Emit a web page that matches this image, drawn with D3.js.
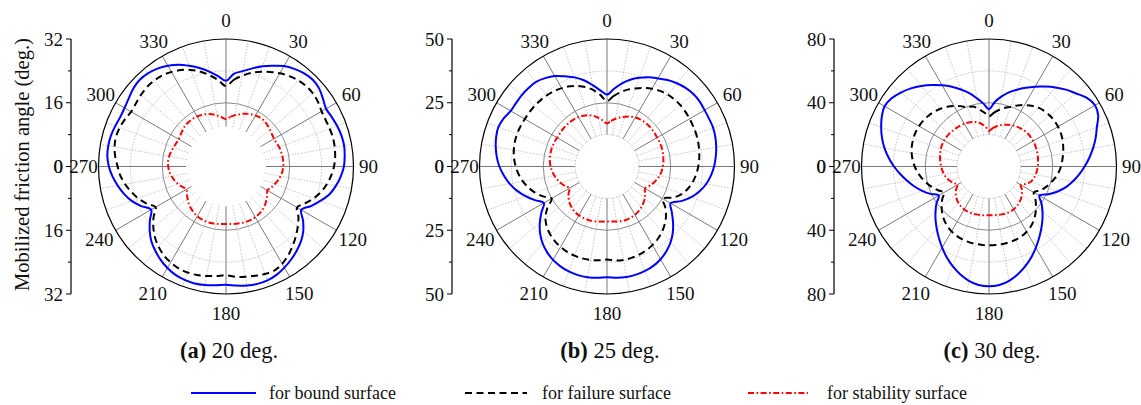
<!DOCTYPE html>
<html>
<head>
<meta charset="utf-8">
<script src="https://cdn.jsdelivr.net/npm/d3@7"></script>
<style>
  html, body { margin: 0; padding: 0; background: #fff; }
  svg { display: block; }
  text { font-family: "Liberation Serif", "Times New Roman", serif; fill: #111; }
</style>
</head>
<body>
<svg id="chart" width="1141" height="405"></svg>
<script>
// Polar direction, degrees clockwise from north, every 5 degrees
const angles = d3.range(0, 360, 5);

// Mobilized friction angle (deg.) at each direction
// (a) 20 deg.
const boundA = [
  21.5, 23.4, 24.3, 25.5, 26.8, 27.9, 29.1, 29.9, 30.5, 30.8, 30.5, 29.7,
  29.0, 29.3, 29.7, 30.0, 30.1, 29.9, 29.6, 28.9, 28.0, 26.9, 25.2, 23.5,
  21.8, 23.6, 25.3, 26.6, 27.6, 28.5, 29.3, 30.0, 30.4, 30.5, 30.3, 30.0,
  29.7, 29.9, 30.2, 30.4, 30.3, 30.0, 29.4, 28.6, 27.6, 26.5, 25.0, 23.3,
  21.7, 23.5, 25.2, 26.5, 27.6, 28.6, 29.4, 29.9, 30.0, 29.9, 29.6, 29.3,
  29.4, 29.8, 30.4, 30.7, 30.5, 30.0, 29.2, 28.2, 26.9, 25.6, 24.2, 22.8
];
const failureA = [
  20.2, 21.8, 23.1, 24.3, 25.3, 26.2, 27.0, 27.7, 28.2, 28.5, 28.5, 28.2,
  27.7, 27.6, 27.7, 27.8, 27.7, 27.5, 27.1, 26.5, 25.7, 24.7, 23.4, 21.9,
  20.6, 22.2, 23.5, 24.8, 26.0, 27.2, 28.2, 28.8, 28.7, 28.4, 28.1, 27.8,
  27.3, 27.6, 27.9, 28.2, 28.3, 28.2, 27.8, 27.2, 26.3, 25.2, 23.8, 22.2,
  20.4, 22.0, 23.4, 24.6, 25.7, 26.6, 27.2, 27.9, 28.4, 28.6, 28.4, 28.0,
  27.5, 27.6, 27.9, 28.1, 28.1, 27.9, 27.4, 26.7, 25.8, 24.6, 23.2, 21.7
];
const stabilityA = [
  11.9, 12.5, 13.1, 13.6, 14.1, 14.5, 14.8, 15.0, 14.9, 14.7, 14.4, 14.1,
  13.9, 14.0, 14.2, 14.3, 14.4, 14.4, 14.4, 14.2, 13.9, 13.5, 13.0, 12.5,
  12.0, 12.6, 13.2, 13.8, 14.2, 14.5, 14.7, 14.8, 14.8, 14.7, 14.6, 14.5,
  14.4, 14.5, 14.6, 14.7, 14.7, 14.6, 14.4, 14.1, 13.7, 13.2, 12.6, 12.0,
  11.5, 12.1, 12.8, 13.4, 13.9, 14.3, 14.5, 14.6, 14.5, 14.3, 14.0, 13.8,
  13.7, 13.9, 14.2, 14.5, 14.6, 14.6, 14.5, 14.3, 14.0, 13.6, 13.0, 12.4
];

// (b) 25 deg.
const boundB = [
  28.2, 30.5, 33.0, 35.2, 37.0, 38.6, 39.9, 41.4, 42.6, 43.6, 44.2, 44.4,
  44.2, 44.2, 44.3, 44.0, 43.5, 42.8, 42.0, 40.9, 39.5, 37.6, 35.2, 32.1,
  28.8, 31.0, 33.8, 36.5, 38.8, 40.6, 42.0, 43.0, 43.6, 43.9, 44.0, 43.8,
  43.4, 43.8, 44.1, 44.1, 43.8, 43.2, 42.3, 41.0, 39.3, 37.1, 34.4, 31.4,
  28.6, 31.2, 34.0, 36.6, 38.8, 40.6, 42.2, 43.4, 44.3, 45.0, 45.3, 44.7,
  43.6, 43.5, 43.6, 43.5, 43.3, 42.3, 41.0, 39.0, 37.2, 35.0, 32.4, 30.0
];
const failureB = [
  25.6, 27.6, 29.5, 31.2, 32.6, 34.0, 35.2, 36.2, 36.9, 37.3, 37.5, 37.5,
  37.4, 37.3, 37.2, 37.0, 36.7, 36.3, 35.8, 35.1, 34.2, 33.0, 31.3, 28.8,
  25.3, 27.9, 30.2, 32.0, 33.5, 34.7, 35.6, 36.3, 36.8, 37.1, 37.2, 37.0,
  36.5, 36.9, 37.2, 37.3, 37.2, 36.9, 36.4, 35.7, 34.7, 33.4, 31.5, 28.6,
  25.1, 27.7, 30.0, 31.9, 33.5, 34.8, 35.8, 36.6, 37.1, 37.4, 37.5, 37.4,
  37.2, 37.1, 37.0, 36.8, 36.5, 36.1, 35.5, 34.7, 33.6, 32.2, 30.4, 28.0
];
const stabilityB = [
  16.9, 17.9, 19.0, 19.9, 20.8, 21.6, 22.2, 22.6, 22.8, 22.9, 22.9, 22.8,
  22.7, 22.7, 22.7, 22.6, 22.4, 22.2, 21.9, 21.5, 20.9, 20.1, 19.2, 18.2,
  17.2, 18.3, 19.3, 20.2, 20.9, 21.5, 21.9, 22.1, 22.2, 22.1, 21.9, 21.7,
  21.6, 21.7, 21.9, 22.1, 22.2, 22.2, 22.1, 21.8, 21.3, 20.6, 19.6, 18.4,
  17.0, 18.1, 19.2, 20.1, 20.9, 21.6, 22.1, 22.5, 22.7, 22.8, 22.8, 22.7,
  22.6, 22.6, 22.7, 22.7, 22.7, 22.6, 22.4, 22.0, 21.4, 20.6, 19.4, 18.1
];

// (c) 30 deg.
const boundC = [
  36.0, 40.5, 44.5, 48.2, 51.3, 54.5, 57.8, 61.2, 64.8, 68.2, 71.3, 75.0,
  76.8, 75.6, 72.0, 69.3, 66.3, 63.2, 60.0, 56.8, 53.5, 50.0, 45.8, 41.2,
  36.5, 40.2, 43.8, 47.4, 51.0, 54.8, 58.8, 62.8, 66.6, 70.0, 72.8, 74.6,
  75.2, 74.6, 72.8, 70.0, 66.6, 62.8, 58.8, 54.8, 51.0, 47.4, 43.8, 40.2,
  36.4, 40.6, 44.6, 48.4, 52.0, 55.8, 59.6, 63.2, 66.6, 69.5, 72.0, 74.2,
  75.6, 74.6, 72.2, 69.3, 66.0, 62.4, 58.8, 55.2, 51.4, 47.6, 43.4, 39.6
];
const failureC = [
  31.5, 33.8, 36.0, 38.0, 39.8, 42.3, 44.5, 46.6, 48.2, 49.2, 49.8, 50.0,
  50.0, 49.7, 49.1, 48.2, 47.2, 46.2, 45.2, 43.8, 42.0, 40.0, 37.9, 35.5,
  32.5, 35.5, 38.5, 41.3, 43.8, 45.8, 47.3, 48.3, 48.9, 49.2, 49.4, 49.4,
  49.4, 49.4, 49.3, 49.1, 48.7, 48.0, 47.0, 45.6, 43.8, 41.5, 38.8, 35.8,
  32.7, 35.3, 37.9, 40.4, 42.7, 44.8, 46.6, 48.1, 49.3, 50.1, 50.6, 50.8,
  50.7, 50.3, 49.6, 48.6, 47.3, 45.7, 43.8, 41.8, 39.6, 39.0, 36.6, 34.0
];
const stabilityC = [
  22.3, 24.0, 25.5, 26.8, 27.9, 28.9, 29.8, 30.5, 31.1, 31.6, 31.9, 32.0,
  32.0, 31.9, 31.7, 31.5, 31.2, 30.9, 30.6, 30.2, 29.7, 29.0, 27.9, 25.8,
  23.0, 25.2, 27.0, 28.4, 29.5, 30.4, 31.0, 31.3, 31.3, 31.1, 30.9, 30.7,
  30.6, 30.7, 30.9, 31.1, 31.3, 31.3, 31.1, 30.6, 29.8, 28.7, 27.2, 25.2,
  22.8, 24.6, 26.2, 27.6, 28.6, 29.4, 30.0, 30.6, 31.2, 31.7, 32.2, 32.5,
  32.6, 32.5, 32.3, 32.0, 31.7, 31.4, 31.0, 30.5, 29.8, 28.7, 27.2, 25.0
];

// Axis annotations
const angleTicks = [0, 30, 60, 90, 120, 150, 180, 210, 240, 270, 300, 330];
const radialMaxes = [32, 50, 80];
const radialStarts = [10, 12.5, 20];       // where the spokes begin
const panelLetters = ["(a)", "(b)", "(c)"];
const panelCaptions = [" 20 deg.", " 25 deg.", " 30 deg."];
const seriesNames = ["for bound surface", "for failure surface", "for stability surface"];
const yTitle = "Mobilized friction angle (deg.)";

const panels = [
  { bound: boundA, failure: failureA, stability: stabilityA },
  { bound: boundB, failure: failureB, stability: stabilityB },
  { bound: boundC, failure: failureC, stability: stabilityC }
];

// Presentation
const centersX = [226, 607, 989];
const centerY = 166.5;
const R = 127.5;
const axisOffset = 155;
const tickFont = 19;
const seriesStyle = {
  bound:     { color: "#0000ff", dash: null },
  failure:   { color: "#000000", dash: "7,4.5" },
  stability: { color: "#ff0000", dash: "6,2.5,1.6,2.5" }
};
const seriesKeys = ["bound", "failure", "stability"];

const svg = d3.select("#chart");
const rad = d => d * Math.PI / 180;

panels.forEach((panel, i) => {
  const max = radialMaxes[i];
  const r = d3.scaleLinear().domain([0, max]).range([0, R]);
  const g = svg.append("g").attr("transform", `translate(${centersX[i]},${centerY})`);
  const r0 = r(radialStarts[i]);

  // grid circles: quarter & three-quarter dotted, half solid
  [max / 4, 3 * max / 4].filter(v => v >= radialStarts[i]).forEach(v => {
    g.append("circle").attr("r", r(v)).attr("fill", "none")
      .attr("stroke", "#bdbdbd").attr("stroke-width", 0.9).attr("stroke-dasharray", "1.5,1.5");
  });
  g.append("circle").attr("r", r(max / 2)).attr("fill", "none")
    .attr("stroke", "#8a8a8a").attr("stroke-width", 1);

  // spokes
  d3.range(0, 360, 10).forEach(a => {
    const major = a % 30 === 0;
    const t = rad(a);
    g.append("line")
      .attr("x1", r0 * Math.sin(t)).attr("y1", -r0 * Math.cos(t))
      .attr("x2", R * Math.sin(t)).attr("y2", -R * Math.cos(t))
      .attr("stroke", major ? "#7a7a7a" : "#bdbdbd")
      .attr("stroke-width", major ? 1 : 0.9)
      .attr("stroke-dasharray", major ? null : "1.5,1.5");
  });

  // outer circle
  g.append("circle").attr("r", R).attr("fill", "none")
    .attr("stroke", "#000").attr("stroke-width", 1.2);

  // angle labels
  angleTicks.forEach(a => {
    const t = rad(a);
    const rl = (a === 90 || a === 270) ? R + 15 : (a === 60 || a === 300 || a === 30 || a === 330) ? R + 17 : R + 19;
    g.append("text")
      .attr("x", rl * Math.sin(t)).attr("y", -rl * Math.cos(t))
      .attr("text-anchor", "middle").attr("dominant-baseline", "central")
      .attr("font-size", tickFont).text(a);
  });

  // curves
  seriesKeys.forEach(key => {
    const data = angles.map((a, k) => ({ angle: a, value: panel[key][k] }));
    const line = d3.lineRadial()
      .angle(d => rad(d.angle))
      .radius(d => r(d.value))
      .curve(d3.curveCatmullRomClosed.alpha(0.5));
    g.append("path").datum(data)
      .attr("d", line)
      .attr("fill", "none")
      .attr("stroke", seriesStyle[key].color)
      .attr("stroke-width", 2)
      .attr("stroke-dasharray", seriesStyle[key].dash);
  });

  // left radial axis, mirrored above and below the centre
  const ax = -axisOffset;
  const yUp = d3.scaleLinear().domain([0, max]).range([0, -R]);
  const yDown = d3.scaleLinear().domain([0, max]).range([0, R]);
  g.append("line").attr("x1", ax).attr("x2", ax).attr("y1", -R).attr("y2", R)
    .attr("stroke", "#000").attr("stroke-width", 1.2);
  const majors = [0, max / 2, max];
  const minors = [max / 4, 3 * max / 4];
  [yUp, yDown].forEach(sc => {
    majors.forEach(v => {
      g.append("line").attr("x1", ax - 5).attr("x2", ax).attr("y1", sc(v)).attr("y2", sc(v))
        .attr("stroke", "#000").attr("stroke-width", 1);
      g.append("text").attr("x", ax - 8).attr("y", sc(v))
        .attr("text-anchor", "end").attr("dominant-baseline", "central")
        .attr("font-size", tickFont).text(d3.format("~g")(v));
    });
    minors.forEach(v => {
      g.append("line").attr("x1", ax - 3).attr("x2", ax).attr("y1", sc(v)).attr("y2", sc(v))
        .attr("stroke", "#000").attr("stroke-width", 1);
    });
  });

  // caption
  const cap = svg.append("text")
    .attr("x", centersX[i] + 3).attr("y", 358)
    .attr("text-anchor", "middle").attr("font-size", 22.5);
  cap.append("tspan").attr("font-weight", "bold").text(panelLetters[i]);
  cap.append("tspan").text(panelCaptions[i]);
});

// y title
svg.append("text")
  .attr("transform", `translate(22,${centerY - 2}) rotate(-90)`)
  .attr("text-anchor", "middle").attr("dominant-baseline", "central")
  .attr("font-size", 20.5).text(yTitle);

// legend
const legendY = 393;
const legendItems = [
  { key: "bound", x1: 191, x2: 256, tx: 269 },
  { key: "failure", x1: 465, x2: 527, tx: 542 },
  { key: "stability", x1: 748, x2: 808, tx: 827 }
];
legendItems.forEach((it, k) => {
  svg.append("line").attr("x1", it.x1).attr("x2", it.x2)
    .attr("y1", legendY).attr("y2", legendY)
    .attr("stroke", seriesStyle[it.key].color).attr("stroke-width", 2)
    .attr("stroke-dasharray", seriesStyle[it.key].dash);
  svg.append("text").attr("x", it.tx).attr("y", legendY)
    .attr("dominant-baseline", "central").attr("font-size", 18)
    .text(seriesNames[k]);
});
</script>
</body>
</html>
